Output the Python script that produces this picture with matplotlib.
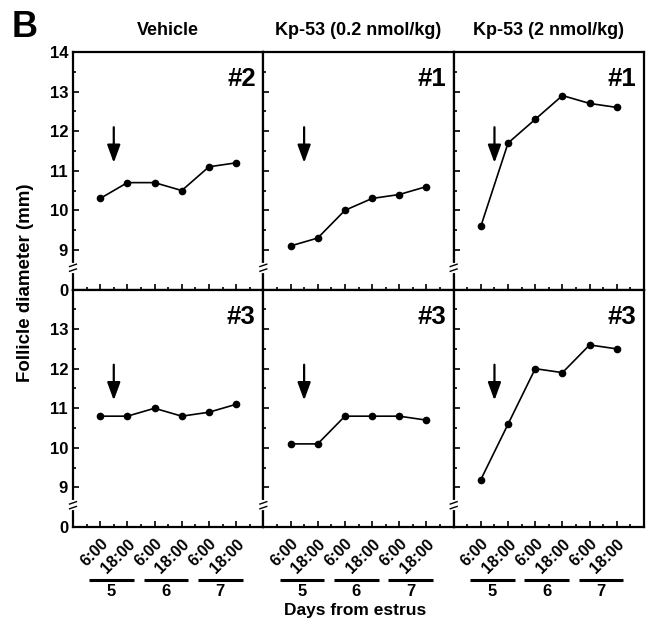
import matplotlib
matplotlib.use('Agg')
import matplotlib.pyplot as plt
import matplotlib.transforms as mtransforms
import numpy as np

plt.rcParams['font.family'] = ['Liberation Sans', 'DejaVu Sans']
plt.rcParams['font.weight'] = 'bold'

# sampling times (6 scans over days 5-7)
times = ['6:00', '18:00', '6:00', '18:00', '6:00', '18:00']
days = ['5', '6', '7']
groups = ['Vehicle', 'Kp-53 (0.2 nmol/kg)', 'Kp-53 (2 nmol/kg)']

# follicle diameters (mm): top row animals, bottom row animals
vehicle_2 = [10.3, 10.7, 10.7, 10.5, 11.1, 11.2]
vehicle_3 = [10.8, 10.8, 11.0, 10.8, 10.9, 11.1]
kp02_1 = [9.1, 9.3, 10.0, 10.3, 10.4, 10.6]
kp02_3 = [10.1, 10.1, 10.8, 10.8, 10.8, 10.7]
kp2_1 = [9.6, 11.7, 12.3, 12.9, 12.7, 12.6]
kp2_3 = [9.2, 10.6, 12.0, 11.9, 12.6, 12.5]

top_ids = ['#2', '#1', '#1']
bottom_ids = ['#3', '#3', '#3']
top_data = [vehicle_2, kp02_1, kp2_1]
bottom_data = [vehicle_3, kp02_3, kp2_3]

ZERO = 8.0      # where the "0" of the broken axis sits
BREAK = 8.55

fig, axes = plt.subplots(2, 3, figsize=(6.47, 6.19), dpi=100)
fig.subplots_adjust(left=0.1128, right=0.9954, top=0.916, bottom=0.1486,
                    wspace=0, hspace=0)

x = np.arange(1, 7)

for row in range(2):
    for col in range(3):
        ax = axes[row, col]
        vals = top_data[col] if row == 0 else bottom_data[col]
        pid = top_ids[col] if row == 0 else bottom_ids[col]
        ax.plot(x, vals, color='black', lw=1.2, marker='o', ms=4.5)
        ax.set_xlim(0, 7)
        ax.set_ylim(ZERO, 14)
        for s in ax.spines.values():
            s.set_linewidth(1.6)

        ax.set_xticks(x)
        ax.set_xticks(np.arange(0.5, 7, 1), minor=True)
        if row == 0:
            ax.set_yticks([ZERO, 9, 10, 11, 12, 13, 14])
            ylabels = ['0', '9', '10', '11', '12', '13', '14']
        else:
            ax.set_yticks([ZERO, 9, 10, 11, 12, 13])
            ylabels = ['0', '9', '10', '11', '12', '13']
        ax.set_yticks(np.arange(9.5, 14, 1), minor=True)
        ax.tick_params(which='both', direction='in', top=False, right=False,
                       width=1.2)
        ax.tick_params(which='major', length=4)
        ax.tick_params(which='minor', length=2.5)
        if col == 0:
            ax.set_yticklabels(ylabels, fontsize=12, fontweight='bold')
        else:
            ax.set_yticklabels([])
        if row == 1:
            ax.set_xticklabels(times, rotation=45, ha='right', va='top',
                               rotation_mode='anchor', fontsize=11.5,
                               fontweight='bold')
            for lab in ax.get_xticklabels():
                lab.set_transform(lab.get_transform() +
                                  mtransforms.ScaledTranslation(0, -3/72, fig.dpi_scale_trans))
        else:
            ax.set_xticklabels([])

        # panel id
        ax.text(0.96, 0.935, pid, transform=ax.transAxes, ha='right', va='top',
                fontsize=18.5, fontweight='bold')

        # treatment arrow
        ax.annotate('', xy=(1.5, 11.2), xytext=(1.5, 12.1),
                    arrowprops=dict(arrowstyle='-|>,head_length=0.6,head_width=0.22',
                                    lw=1.6, color='black', mutation_scale=18,
                                    shrinkA=0, shrinkB=0))

        # axis break on the left spine
        trans = mtransforms.blended_transform_factory(ax.transAxes, ax.transData)
        ax.plot([0, 0], [BREAK - 0.08, BREAK + 0.08], color='white', lw=3,
                transform=trans, clip_on=False, zorder=5)
        for dy in (-0.06, 0.06):
            ax.plot([-0.018, 0.018], [BREAK + dy - 0.03, BREAK + dy + 0.03],
                    color='black', lw=1, transform=trans, clip_on=False, zorder=6)

        if row == 0:
            ax.set_title(groups[col], fontsize=13, fontweight='bold', pad=12)

        if row == 1:
            # day bars under each pair of times
            btrans = mtransforms.blended_transform_factory(ax.transData, ax.transAxes)
            for i, d in enumerate(days):
                c = 1.5 + 2 * i - 0.08
                ax.plot([c - 0.82, c + 0.82], [-0.223, -0.223], color='black',
                        lw=2.2, transform=btrans, clip_on=False,
                        solid_capstyle='butt')
                ax.text(c, -0.271, d, transform=btrans, ha='center', va='center',
                        fontsize=12, fontweight='bold')

fig.text(0.018, 0.940, 'B', fontsize=26, fontweight='bold', ha='left', va='baseline')
fig.text(0.040, 0.543, 'Follicle diameter (mm)', rotation=90, ha='center',
         va='center', fontsize=13.5, fontweight='bold')
mid = axes[1, 1].get_position()
fig.text((mid.x0 + mid.x1) / 2 - 0.005, 0.002, 'Days from estrus', ha='center',
         va='bottom', fontsize=12.5, fontweight='bold')

fig.savefig('out.png', dpi=100)
